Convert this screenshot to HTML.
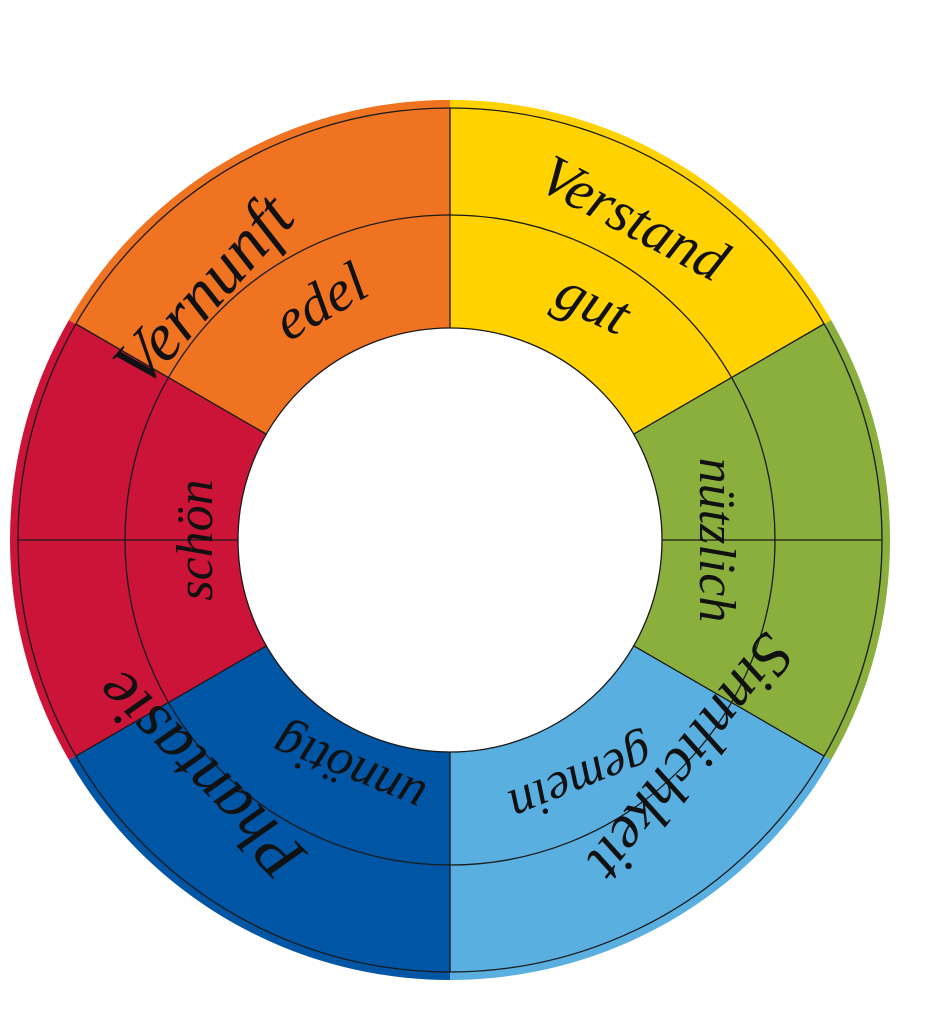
<!DOCTYPE html>
<html><head><meta charset="utf-8"><style>html,body{margin:0;padding:0;background:#fff}svg{display:block}</style></head>
<body>
<svg width="932" height="1024" viewBox="0 0 932 1024" xmlns="http://www.w3.org/2000/svg">
<defs>
<clipPath id="c"><circle cx="450" cy="540" r="440"/></clipPath>
</defs>
<g clip-path="url(#c)">
<path d="M450 540 L450 90 L1000 90 L1000 223 Z" fill="#F6C700"/>
<path d="M450 540 L450 90 L0 90 L0 223 Z" fill="#F07322"/>
<path d="M450 540 L840 315 L1000 315 L1000 765 L840 765 Z" fill="#8AAF3C"/>
<path d="M450 540 L840 765 L1000 1000 L450 1000 Z" fill="#5AAFE1"/>
<path d="M450 540 L450 1000 L0 1000 L60 765 Z" fill="#0055A5"/>
<path d="M450 540 L60 765 L0 765 L0 315 L60 315 Z" fill="#CC1439"/>
<path d="M450 540 L60 315 L0 90 L450 90 Z" fill="#F07322"/>
<path d="M450 540 L840 315 L1000 90 L450 90 Z" fill="#FFD200"/>
</g>
<circle cx="450" cy="540" r="212" fill="#fff"/>
<g fill="none" stroke="#1a1a1a" stroke-width="1.3">
<circle cx="450" cy="540" r="432"/>
<circle cx="450" cy="540" r="325"/>
<circle cx="450" cy="540" r="212"/>
<line x1="450" y1="108" x2="450" y2="328"/>
<line x1="450" y1="752" x2="450" y2="972"/>
<line x1="18" y1="540" x2="238" y2="540"/>
<line x1="662" y1="540" x2="882" y2="540"/>
<line x1="824" y1="324" x2="634" y2="434"/>
<line x1="824" y1="756" x2="634" y2="646"/>
<line x1="76" y1="324" x2="266" y2="434"/>
<line x1="76" y1="756" x2="266" y2="646"/>
</g>
<g font-family="Liberation Serif, serif" font-style="italic" fill="#111" text-anchor="middle">
<text font-size="68" transform="translate(220,305) rotate(-48)">Vernunft</text>
<text font-size="58" transform="translate(330,318) rotate(-30)">edel</text>
<text font-size="58" transform="translate(625,235) rotate(28)">Verstand</text>
<text font-size="58" transform="translate(585,320) rotate(25)">gut</text>
<text font-size="52" transform="translate(700,540) rotate(90)">nützlich</text>
<text font-size="62" transform="translate(675,745) rotate(128)">Sinnlichkeit</text>
<text font-size="52" transform="translate(575,765) rotate(158)">gemein</text>
<text font-size="52" transform="translate(355,755) rotate(202)">unnötig</text>
<text font-size="66" transform="translate(215,760) rotate(225)">Phantasie</text>
<text font-size="52" transform="translate(212,540) rotate(-90)">schön</text>
</g>
</svg>
</body></html>
